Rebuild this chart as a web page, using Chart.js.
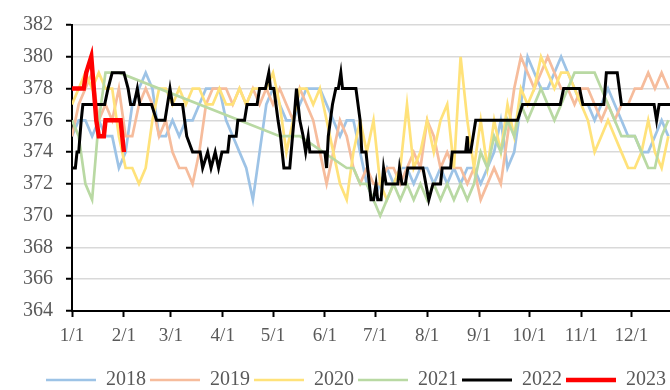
<!DOCTYPE html>
<html>
<head>
<meta charset="utf-8">
<script src="https://cdn.jsdelivr.net/npm/chart.js@4.4.0/dist/chart.umd.min.js"></script>
<style>
    html, body { margin: 0; padding: 0; background: #fff; }
</style>
</head>
<body>
<canvas id="myChart" width="670" height="390"></canvas>
<script>
// month ticks (day of year) and labels
var monthDays = [0, 31, 59, 90, 120, 151, 181, 212, 243, 273, 304, 334];
var monthLabels = ['1/1', '2/1', '3/1', '4/1', '5/1', '6/1', '7/1', '8/1', '9/1', '10/1', '11/1', '12/1'];

// shared day grid for the older years
var days = [0, 4, 8, 12, 16, 20, 24, 28, 32, 36, 40, 44, 48, 52, 56, 60, 64, 68, 72, 76,
    80, 84, 88, 92, 96, 100, 104, 108, 112, 116, 120, 124, 128, 132, 136, 140, 144, 148, 152, 156,
    160, 164, 168, 172, 176, 180, 184, 188, 192, 196, 200, 204, 208, 212, 216, 220, 224, 228, 232, 236,
    240, 244, 248, 252, 256, 260, 264, 268, 272, 276, 280, 284, 288, 292, 296, 300, 304, 308, 312, 316,
    320, 324, 328, 332, 336, 340, 344, 348, 352, 356];

var vals2018 = [375, 376, 376, 375, 376, 375, 375, 373, 374, 377,
    378, 379, 378, 375, 375, 376, 375, 376, 376, 377,
    378, 378, 378, 376, 375, 374, 373, 371, 374, 377,
    378, 377, 376, 376, 377, 378, 378, 378, 377, 376,
    375, 376, 376, 374, 372, 371, 372, 373, 372, 373,
    373, 372, 373, 373, 372, 373, 372, 373, 372, 373,
    373, 372, 373, 374, 376, 373, 374, 377, 380, 379,
    378, 378, 379, 380, 379, 378, 377, 377, 376, 377,
    378, 377, 376, 375, 375, 374, 374, 375, 376, 375];

var vals2019 = [375, 377, 378, 379, 376, 377, 376, 378, 375, 375,
    377, 378, 377, 375, 376, 374, 373, 373, 372, 374,
    377, 378, 378, 378, 377, 378, 377, 378, 377, 378,
    377, 378, 377, 376, 378, 377, 376, 374, 372, 374,
    376, 375, 373, 372, 373, 372, 372, 373, 373, 372,
    373, 374, 373, 376, 375, 373, 374, 373, 373, 372,
    373, 371, 372, 373, 372, 375, 378, 380, 379, 378,
    379, 380, 379, 378, 378, 377, 378, 378, 377, 376,
    377, 376, 377, 377, 378, 378, 379, 378, 379, 378];

var vals2020 = [377, 378, 379, 378, 379, 378, 378, 375, 373, 373,
    372, 373, 376, 378, 378, 377, 378, 377, 378, 378,
    377, 377, 378, 377, 377, 378, 377, 378, 378, 378,
    379, 377, 374, 376, 378, 378, 377, 378, 376, 374,
    372, 371, 374, 376, 374, 376, 372, 371, 372, 373,
    377, 373, 374, 376, 374, 376, 377, 373, 380, 376,
    373, 376, 373, 376, 374, 377, 375, 378, 377, 378,
    380, 379, 378, 379, 379, 378, 377, 376, 374, 375,
    376, 375, 374, 373, 373, 374, 376, 374, 373, 375];

var vals2021 = [376, 375, 372, 371, 376, 379, 379, 379, null, null,
    null, null, null, null, null, null, null, null, null, null,
    null, null, null, null, null, null, null, null, null, null,
    null, 375, 375, 375, 375, null, null, null, null, null,
    null, 373, 373, 372, 372, 371, 370, 371, 372, 371,
    372, 371, 372, 371, 372, 371, 372, 371, 372, 371,
    372, 374, 373, 375, 374, 376, 375, 377, 376, 377,
    378, 377, 376, 377, 378, 379, 379, 379, 379, 378,
    377, 376, 375, 375, 375, 374, 373, 373, 375, 376];

// 2022 and 2023 read at their change points
var days2022 = [0, 2, 3, 4, 5.5, 6.5, 19.5, 21.5, 24, 31, 33.5, 35, 37, 39, 40.5, 47.5, 50.5, 55.5, 58.5, 60,
    66, 68.5, 72, 76.5, 78, 81, 83, 85.5, 87.5, 89.5, 93, 94, 98, 99, 103, 104.5, 110.5, 112, 115.5, 117.5,
    118.5, 120.5, 123, 124.5, 126.5, 130, 132.5, 134, 136, 138, 139.5, 141, 142, 151, 152, 153, 155.5, 157.5, 159, 160.5,
    161.5, 169.5, 172, 173, 175.5, 176.5, 178.5, 180, 181.5, 182.5, 184.5, 186, 187.5, 194.5, 195.5, 197, 199, 200.5, 209.5, 213,
    215.5, 220, 221, 226, 227, 235, 236, 236.5, 238, 241, 266, 269, 291.5, 293.5, 303, 305, 317.5, 319, 325.5, 328,
    347.5, 349, 350.5, 357];
var vals2022 = [373, 373, 374, 374, 376, 377, 377, 378, 379, 379, 378, 377, 377, 378, 377, 377, 376, 376, 378, 377,
    377, 375, 374, 374, 373, 374, 373, 374, 373, 374, 374, 375, 375, 376, 376, 377, 377, 378, 378, 379,
    378, 378, 376, 375, 373, 373, 376, 378, 376, 375, 374, 375, 374, 374, 373, 375, 377, 378, 378, 379,
    378, 378, 376, 374, 374, 373, 371, 371, 372, 371, 371, 373, 372, 372, 373, 372, 372, 373, 373, 371,
    372, 372, 373, 373, 374, 374, 375, 374, 374, 376, 376, 377, 377, 378, 378, 377, 377, 379, 379, 377,
    377, 376, 377, 377];

var days2023 = [0, 7, 8.5, 11.5, 14.5, 16, 19, 20, 29, 31];
var vals2023 = [378, 378, 379, 380, 376, 375, 375, 376, 376, 374];

var years = ['2018', '2019', '2020', '2021', '2022', '2023'];
var colors = ['#9DC3E6', '#F6BC9C', '#FFE27A', '#B9D9A3', '#000000', '#FF0000'];
var widths = [2.7, 2.7, 2.7, 2.7, 3, 4.5];

var fontFamily = "'Liberation Serif', 'Times New Roman', serif";
var textColor = '#595959';

function toPoints(d, v) {
    var pts = [];
    for (var i = 0; i < d.length; i++) {
        pts.push({ x: d[i], y: v[i] });
    }
    return pts;
}

var series = [
    toPoints(days, vals2018),
    toPoints(days, vals2019),
    toPoints(days, vals2020),
    toPoints(days, vals2021),
    toPoints(days2022, vals2022),
    toPoints(days2023, vals2023)
];

// newest first so it is drawn on top; legend is reversed back
var datasets = [];
for (var i = years.length - 1; i >= 0; i--) {
    datasets.push({
        label: years[i],
        data: series[i],
        borderColor: colors[i],
        backgroundColor: colors[i],
        borderWidth: widths[i],
        pointRadius: 0,
        tension: 0,
        spanGaps: true,
        fill: false
    });
}

new Chart(document.getElementById('myChart'), {
    type: 'line',
    data: { datasets: datasets },
    options: {
        responsive: false,
        animation: false,
        layout: { padding: { top: 20, right: 0, bottom: -10, left: 0 } },
        plugins: {
            tooltip: { enabled: false },
            legend: {
                position: 'bottom',
                align: 'end',
                reverse: true,
                labels: {
                    usePointStyle: true,
                    pointStyle: 'line',
                    pointStyleWidth: 50,
                    padding: 4,
                    color: textColor,
                    font: { family: fontFamily, size: 20 }
                }
            }
        },
        scales: {
            x: {
                type: 'linear',
                min: 0,
                max: 357,
                afterBuildTicks: function (scale) {
                    scale.ticks = monthDays.map(function (d) { return { value: d }; });
                },
                afterFit: function (scale) { scale.height = 55; },
                ticks: {
                    autoSkip: false,
                    maxRotation: 0,
                    padding: 8,
                    color: textColor,
                    font: { family: fontFamily, size: 19 },
                    callback: function (value, index) { return monthLabels[index]; }
                },
                grid: { drawOnChartArea: false, drawTicks: true, tickLength: 6, tickWidth: 2, tickColor: '#000' },
                border: { color: '#000', width: 2 }
            },
            y: {
                min: 364,
                max: 382,
                afterFit: function (scale) { scale.width = 72; },
                ticks: {
                    stepSize: 2,
                    padding: 13,
                    color: textColor,
                    font: { family: fontFamily, size: 20 }
                },
                grid: { color: '#d9d9d9', lineWidth: 1.5, tickLength: 6, tickWidth: 2, tickColor: '#000' },
                border: { color: '#000', width: 2 }
            }
        }
    }
});
</script>
</body>
</html>
